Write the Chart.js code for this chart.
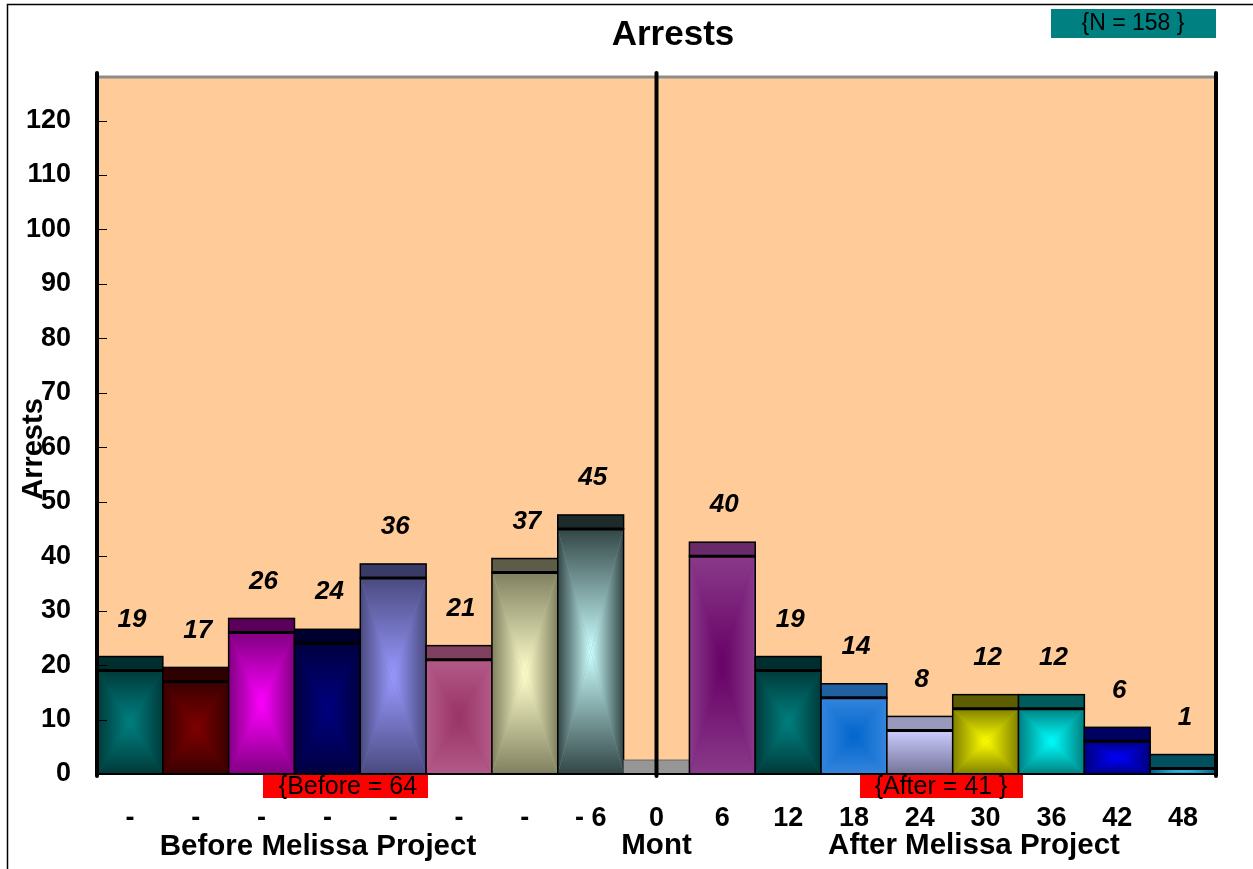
<!DOCTYPE html>
<html lang="en">
<head>
<meta charset="UTF-8">
<title>Arrests</title>
<script src="https://cdn.jsdelivr.net/npm/chart.js"></script>
<style>
    body { margin: 0; background: #fff; }
    canvas { display: block; }
</style>
</head>
<body>
<canvas id="arrestsChart" width="1253" height="869"></canvas>
<script>
// months relative to the start of the Melissa Project
const monthLabels = ['-', '-', '-', '-', '-', '-', '-', '- 6', '0', '6', '12', '18', '24', '30', '36', '42', '48'];
const arrestCounts = [19, 17, 26, 24, 36, 21, 37, 45, 0, 40, 19, 14, 8, 12, 12, 6, 1];
const yTickValues = [0, 10, 20, 30, 40, 50, 60, 70, 80, 90, 100, 110, 120];
const groupLabels = ['Before Melissa Project', 'Mont', 'After Melissa Project'];
const totalNote = '{N = 158 }';
const beforeNote = '{Before = 64';
const afterNote = '{After = 41 }';

// bar styling (center of the gradient, edge of the gradient, top band)
const centerColors = ['#008080', '#800000', '#ff00ff', '#000080', '#9999ff', '#993366', '#ffffcc', '#ccffff', '#969696',
    '#660066', '#008080', '#0066cc', '#ccccff', '#ffff00', '#00ffff', '#0000ff', '#33ccff'];
const edgeColors = ['#003a3a', '#3a0000', '#800080', '#000040', '#4a4a80', '#b35a88', '#808060', '#334646', '#969696',
    '#8a3a8a', '#003a3a', '#3585dd', '#74749a', '#808000', '#008080', '#000080', '#006080'];
const capColors = ['#002e2e', '#2e0000', '#5a005a', '#000030', '#3a3a66', '#80405f', '#5c5c48', '#1e2b2b', '#969696',
    '#6a2a6a', '#002e2e', '#2060a0', '#9999bb', '#5c5c00', '#005c5c', '#000060', '#004f5f'];
const verticalShade = [false, false, false, false, false, false, false, false, false,
    false, false, false, true, false, false, false, false];

const FONT = 'Arial, "Liberation Sans", sans-serif';
const CAP = 14;

function mix(a, b) {
    const p = c => [1, 3, 5].map(k => parseInt(c.substr(k, 2), 16));
    const A = p(a), B = p(b);
    return 'rgb(' + A.map((v, k) => Math.round((v + B[k]) / 2)).join(',') + ')';
}

function shadeBody(ctx, x0, x1, y0, y1, edge, center, vertical) {
    if (vertical) {
        const g = ctx.createLinearGradient(0, y0, 0, y1);
        g.addColorStop(0, center);
        g.addColorStop(1, edge);
        ctx.fillStyle = g;
        ctx.fillRect(x0, y0, x1 - x0, y1 - y0);
        return;
    }
    const cx = (x0 + x1) / 2, cy = (y0 + y1) / 2;
    ctx.fillStyle = mix(edge, center);
    ctx.fillRect(x0, y0, x1 - x0, y1 - y0);
    const tri = (ax, ay, bx, by, gx, gy) => {
        const g = ctx.createLinearGradient(gx, gy, cx, cy);
        g.addColorStop(0, edge);
        g.addColorStop(1, center);
        ctx.fillStyle = g;
        ctx.beginPath();
        ctx.moveTo(ax, ay);
        ctx.lineTo(bx, by);
        ctx.lineTo(cx, cy);
        ctx.closePath();
        ctx.fill();
    };
    tri(x0, y0, x1, y0, cx, y0);
    tri(x0, y1, x1, y1, cx, y1);
    tri(x0, y0, x0, y1, x0, cy);
    tri(x1, y0, x1, y1, x1, cy);
}

function text(ctx, str, x, y, font, color) {
    ctx.font = font;
    ctx.fillStyle = color || '#000';
    ctx.textAlign = 'center';
    ctx.textBaseline = 'middle';
    ctx.fillText(str, x, y);
}

const decor = {
    id: 'decor',
    beforeDraw(chart) {
        const { ctx, chartArea: a } = chart;
        ctx.save();
        ctx.fillStyle = '#fff';
        ctx.fillRect(0, 0, chart.width, chart.height);
        ctx.fillStyle = '#ffcc99';
        ctx.fillRect(a.left, a.top, a.right - a.left, a.bottom - a.top);
        ctx.restore();
    },
    afterDatasetsDraw(chart) {
        const { ctx, chartArea: a, scales: { x, y } } = chart;
        const meta = chart.getDatasetMeta(0);
        ctx.save();

        // shaded bodies, top bands and value labels
        meta.data.forEach((bar, i) => {
            const p = bar.getProps(['x', 'y', 'base', 'width'], true);
            const x0 = p.x - p.width / 2, x1 = p.x + p.width / 2;
            if (p.base - p.y > 1) {
                shadeBody(ctx, x0, x1, p.y, p.base, edgeColors[i], centerColors[i], verticalShade[i]);
                ctx.strokeStyle = '#000';
                ctx.lineWidth = 1.5;
                ctx.strokeRect(x0, p.y, p.width, p.base - p.y);
            }
            ctx.fillStyle = capColors[i];
            ctx.fillRect(x0, p.y - CAP, p.width, CAP);
            ctx.strokeStyle = arrestCounts[i] > 0 ? '#000' : '#555';
            ctx.lineWidth = arrestCounts[i] > 0 ? 1.5 : 0.8;
            ctx.strokeRect(x0, p.y - CAP, p.width, CAP);
            if (arrestCounts[i] > 0) {
                ctx.lineWidth = 3;
                ctx.beginPath();
                ctx.moveTo(x0, p.y);
                ctx.lineTo(x1, p.y);
                ctx.stroke();
                text(ctx, String(arrestCounts[i]), p.x + 2, p.y - CAP - 37, 'italic bold 26px ' + FONT);
            }
        });

        // plot frame
        ctx.strokeStyle = '#8c8c8c';
        ctx.lineWidth = 3;
        ctx.beginPath();
        ctx.moveTo(a.left, a.top);
        ctx.lineTo(a.right, a.top);
        ctx.stroke();

        ctx.strokeStyle = '#000';
        ctx.lineWidth = 2;
        ctx.beginPath();
        ctx.moveTo(a.left, a.bottom);
        ctx.lineTo(a.right, a.bottom);
        ctx.stroke();

        ctx.lineWidth = 1;
        y.ticks.forEach(t => {
            if (t.value % 5 !== 0) return;
            const py = Math.round(y.getPixelForValue(t.value)) + 0.5;
            ctx.beginPath();
            ctx.moveTo(a.left, py);
            ctx.lineTo(a.left + 10, py);
            ctx.stroke();
        });

        ctx.lineWidth = 4;
        ctx.lineCap = 'round';
        [a.left, x.getPixelForValue(8), a.right].forEach(px => {
            ctx.beginPath();
            ctx.moveTo(px, a.top - 4);
            ctx.lineTo(px, a.bottom + 2);
            ctx.stroke();
        });
        ctx.lineCap = 'butt';

        // red notes under the axis
        ctx.fillStyle = '#ff0000';
        ctx.fillRect(263, a.bottom + 1, 165, 23);
        ctx.fillRect(860, a.bottom + 1, 163, 23);
        text(ctx, beforeNote, 348, a.bottom + 13, '25px ' + FONT);
        text(ctx, afterNote, 941, a.bottom + 13, '25px ' + FONT);

        // group labels
        const gFont = 'bold 29.5px ' + FONT;
        text(ctx, groupLabels[0], 318, 847, gFont);
        text(ctx, groupLabels[1], x.getPixelForValue(8), 846, gFont);
        text(ctx, groupLabels[2], 974, 846, gFont);

        // title and total note
        text(ctx, 'Arrests', 673, 35, 'bold 35px ' + FONT);
        ctx.fillStyle = '#008080';
        ctx.fillRect(1051, 9, 165, 29);
        text(ctx, totalNote, 1133, 24, '23px ' + FONT);

        // y axis title
        ctx.save();
        ctx.translate(34, 449);
        ctx.rotate(-Math.PI / 2);
        text(ctx, 'Arrests', 0, 0, 'bold 29px ' + FONT);
        ctx.restore();

        // outer border
        ctx.strokeStyle = '#000';
        ctx.lineWidth = 1.5;
        ctx.beginPath();
        ctx.moveTo(7.5, chart.height);
        ctx.lineTo(7.5, 4.5);
        ctx.lineTo(chart.width, 4.5);
        ctx.stroke();

        ctx.restore();
    }
};

new Chart(document.getElementById('arrestsChart'), {
    type: 'bar',
    data: {
        labels: monthLabels,
        datasets: [{
            label: 'Arrests',
            data: arrestCounts,
            backgroundColor: edgeColors,
            borderWidth: 0,
            categoryPercentage: 1,
            barPercentage: 1
        }]
    },
    options: {
        responsive: false,
        animation: false,
        devicePixelRatio: 1,
        layout: { padding: { left: 0, top: 77, right: 37, bottom: 0 } },
        plugins: {
            legend: { display: false },
            tooltip: { enabled: false }
        },
        scales: {
            x: {
                grid: { display: false, drawTicks: false },
                border: { display: false },
                ticks: {
                    color: '#000',
                    font: { family: FONT, size: 27, weight: 'bold' },
                    padding: 28,
                    maxRotation: 0,
                    autoSkip: false
                },
                afterFit(scale) { scale.height = 95; }
            },
            y: {
                min: 0,
                max: 128,
                grid: { display: false, drawTicks: false },
                border: { display: false },
                ticks: {
                    stepSize: 5,
                    color: '#000',
                    font: { family: FONT, size: 27, weight: 'bold' },
                    padding: 26,
                    callback: v => yTickValues.includes(v) ? v : ''
                },
                afterFit(scale) { scale.width = 97; }
            }
        }
    },
    plugins: [decor]
});
</script>
</body>
</html>
